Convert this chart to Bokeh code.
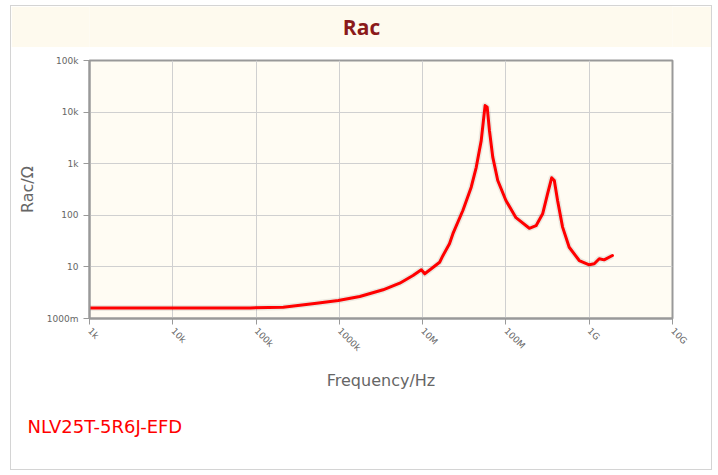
import math
from bokeh.plotting import figure
from bokeh.layouts import column
from bokeh.models import FixedTicker, Range1d, Title
from bokeh.core.properties import value
from bokeh.embed import file_html
from bokeh.resources import INLINE

# ---- data ----
freq_hz = [1e3, 1e4, 8.5e4, 2.12e5, 5.33e5, 9.7e5, 1.76e6, 3.35e6, 5.31e6, 7.66e6,
           9.64e6, 1.06e7, 1.27e7, 1.6e7, 1.75e7, 2.1e7, 2.31e7, 3.04e7, 3.83e7, 4.4e7,
           5.05e7, 5.37e7, 5.62e7, 5.96e7, 6.34e7, 6.95e7, 7.98e7, 1.0e8, 1.32e8, 1.91e8,
           2.3e8, 2.76e8, 3.16e8, 3.54e8, 3.81e8, 4.17e8, 4.79e8, 5.75e8, 7.59e8, 1.0e9,
           1.15e9, 1.32e9, 1.51e9, 1.9e9]
rac_ohm = [1.6, 1.6, 1.6, 1.66, 1.98, 2.23, 2.67, 3.6, 4.83, 6.8,
           8.8, 7.35, 9.2, 12.3, 16.5, 28, 44, 124, 351, 850,
           2800, 6900, 13400, 12400, 4400, 1340, 472, 194, 90, 56,
           63, 107, 261, 533, 472, 194, 59, 24, 13.3, 11,
           11.5, 14.4, 13.7, 16.6]

x_ticks = [1e3, 1e4, 1e5, 1e6, 1e7, 1e8, 1e9, 1e10]
x_tick_labels = ["1k", "10k", "100k", "1000k", "10M", "100M", "1G", "10G"]
y_ticks = [1, 10, 100, 1e3, 1e4, 1e5]
y_tick_labels = ["1000m", "10", "100", "1k", "10k", "100k"]

title_text = "Rac"
x_label = "Frequency/Hz"
y_label = "Rac/\u03a9"
part_name = "NLV25T-5R6J-EFD"

CREAM = "#fefaee"
PLOT_BG = "#fffcf3"
W = 700

# ---- title band ----
t = figure(width=W, height=41, x_range=Range1d(0, 583), y_range=Range1d(0, 41),
           output_backend="svg", toolbar_location=None, min_border=0)
t.axis.visible = False
t.grid.visible = False
t.background_fill_color = CREAM
t.border_fill_color = CREAM
t.outline_line_color = None
t.text(x=[272], y=[20.5], text=[title_text], text_align="center", text_baseline="middle",
       text_font=value("Open Sans"), text_font_style="bold", text_font_size="21px",
       text_color="#8b1a1a")

# ---- main chart ----
p = figure(x_axis_type="log", y_axis_type="log",
           x_range=Range1d(1e3, 1e10), y_range=Range1d(1, 1e5),
           width=W, height=422,
           min_border_left=78, min_border_right=39, min_border_top=13, min_border_bottom=151,
           output_backend="svg", toolbar_location=None)
p.background_fill_color = PLOT_BG
p.border_fill_color = "white"
p.outline_line_color = "#999999"
p.outline_line_width = 2

p.line(freq_hz, rac_ohm, line_color="black", line_alpha=0.08, line_width=6, line_join="round")
p.line(freq_hz, rac_ohm, line_color="#ff0000", line_width=3, line_join="round", line_cap="round")

for ax in (p.xaxis[0], p.yaxis[0]):
    ax.axis_line_color = "#999999"
    ax.axis_line_width = 2
    ax.major_tick_line_color = "#999999"
    ax.major_tick_line_width = 1
    ax.major_tick_out = 6
    ax.major_tick_in = 0
    ax.minor_tick_line_color = None
    ax.major_label_text_font = "DejaVu Sans"
    ax.major_label_text_font_size = "9px"
    ax.major_label_text_color = "#666666"
    ax.axis_label_text_font = "DejaVu Sans"
    ax.axis_label_text_font_style = "normal"
    ax.axis_label_text_color = "#666666"
    ax.axis_label_text_font_size = "16px"

p.xaxis.ticker = FixedTicker(ticks=x_ticks)
p.xaxis.major_label_overrides = {v: s for v, s in zip(x_ticks, x_tick_labels)}
p.xaxis.major_label_orientation = -math.pi / 4
p.xaxis.axis_label = x_label
p.xaxis.axis_label_standoff = 12

p.yaxis.ticker = FixedTicker(ticks=y_ticks)
p.yaxis.major_label_overrides = {v: s for v, s in zip(y_ticks, y_tick_labels)}
p.yaxis.axis_label = y_label
p.yaxis.axis_label_standoff = 7

p.xgrid.ticker = FixedTicker(ticks=x_ticks)
p.ygrid.ticker = FixedTicker(ticks=y_ticks)
p.grid.grid_line_color = "#d0d0d0"
p.grid.grid_line_width = 1

# spacer + part-number caption below the x axis
p.add_layout(Title(text=" ", text_font_size="3px"), "below")
p.add_layout(Title(text=part_name, align="left", offset=-62,
                   text_font="DejaVu Sans", text_font_style="normal",
                   text_font_size="18px", text_color="#ff0000"), "below")

layout = column(t, p, spacing=0,
                styles={"margin": "5px 0 0 10px", "border": "1px solid #d4d4d4"})
open("out.html", "w").write(file_html(layout, INLINE))
